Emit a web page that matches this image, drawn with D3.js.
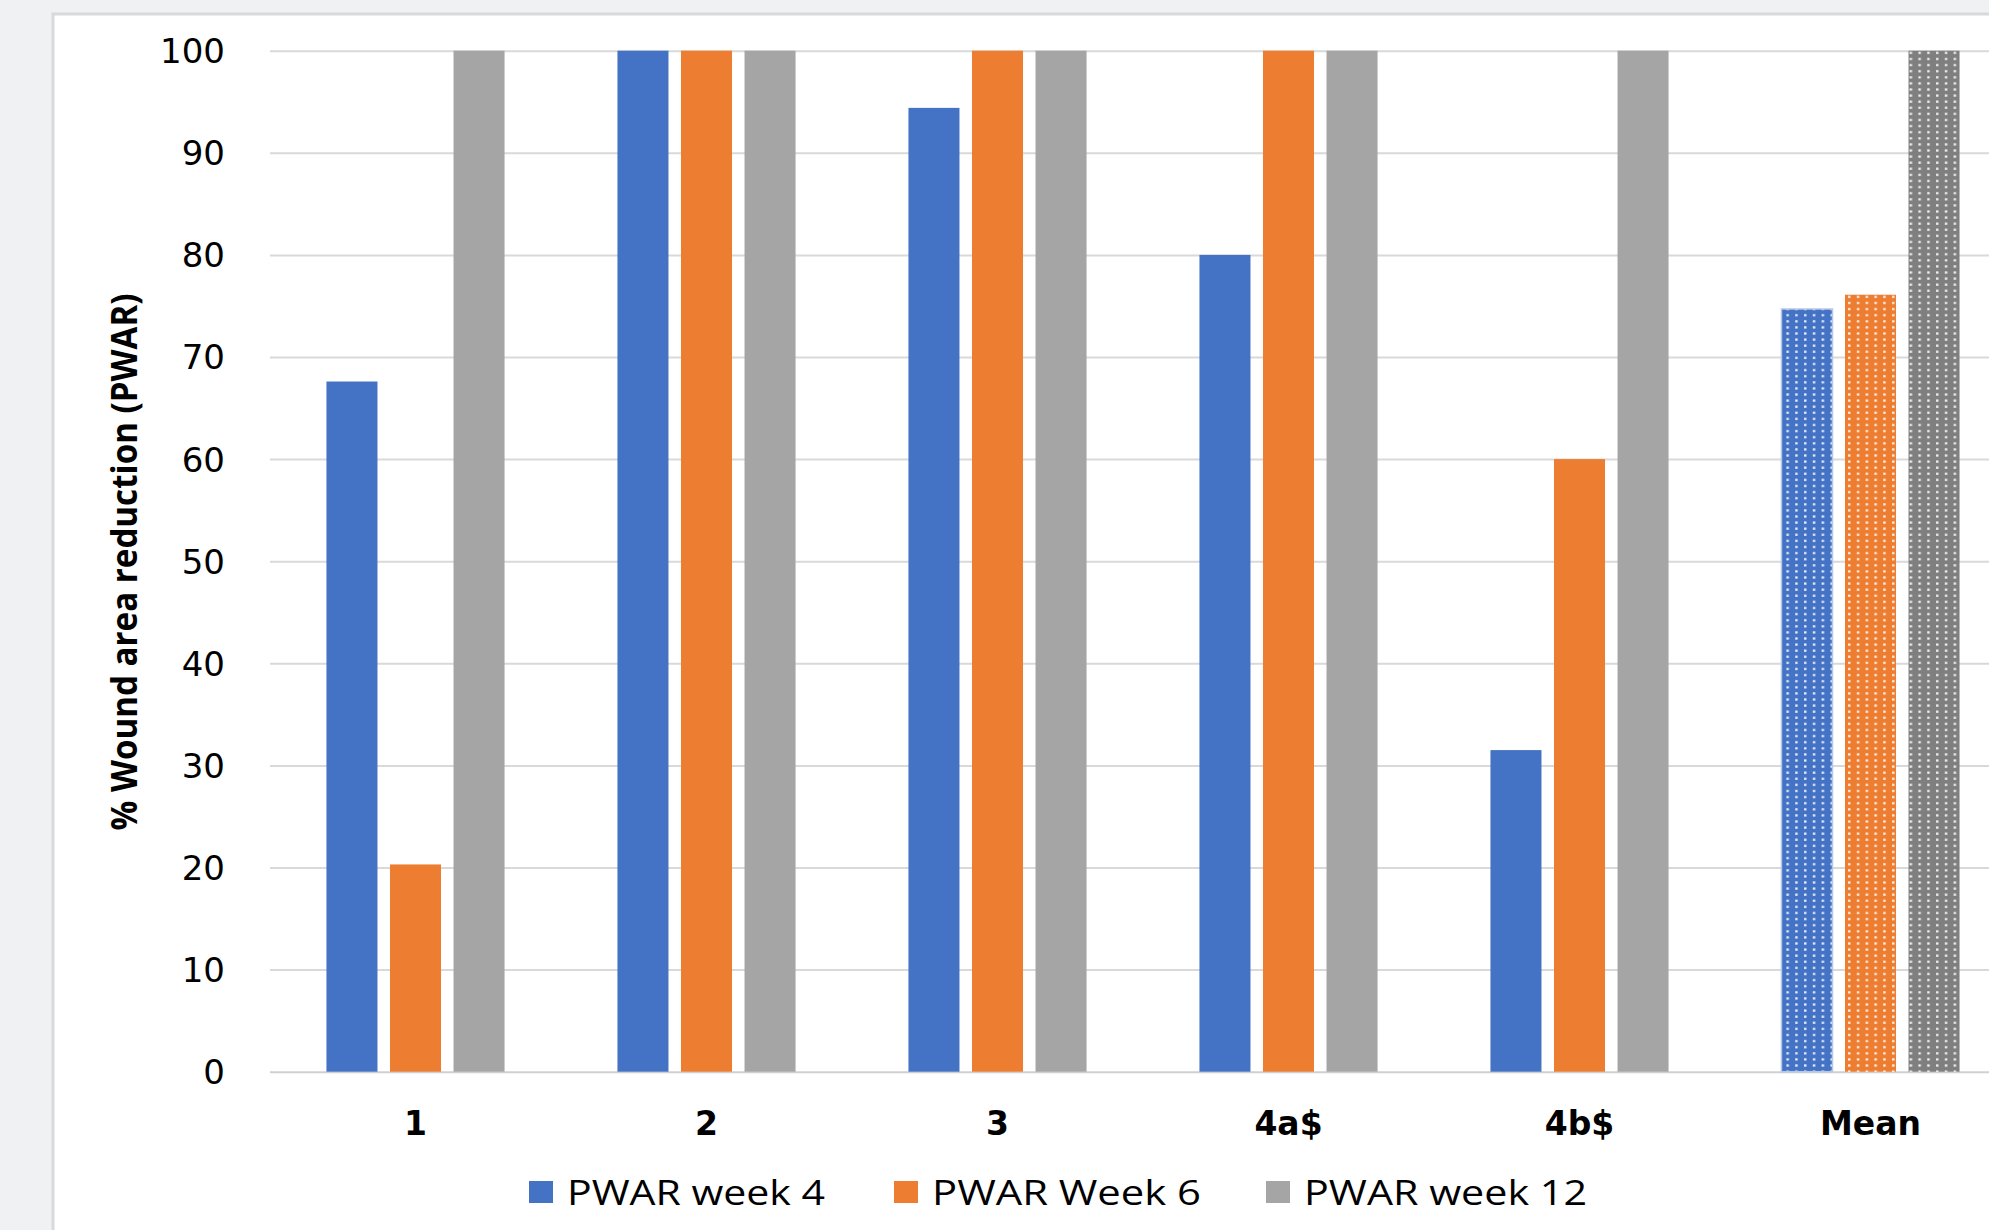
<!DOCTYPE html>
<html>
<head>
<meta charset="utf-8">
<script src="https://cdn.jsdelivr.net/npm/d3@7/dist/d3.min.js"></script>
<style>
  html, body { margin: 0; padding: 0; background: #eff1f3; overflow: hidden; }
  svg { display: block; }
</style>
</head>
<body>
<svg id="chart" width="1989" height="1230"></svg>
<script>
// ---- data ----
const categories = ["1", "2", "3", "4a$", "4b$", "Mean"];
const seriesNames = ["PWAR week 4", "PWAR Week 6", "PWAR week 12"];
const week4 = [67.6, 100, 94.4, 80, 31.5, 74.7];
const week6 = [20.3, 100, 100, 100, 60, 76.1];
const week12 = [100, 100, 100, 100, 100, 100];
const yTicks = [0, 10, 20, 30, 40, 50, 60, 70, 80, 90, 100];
const yTitle = "% Wound area reduction (PWAR)";

// ---- styles ----
const colors = ["#4472C4", "#ED7D31", "#A5A5A5"];
const meanColors = ["#4472C4", "#ED7D31", "#7F7F7F"];

const svg = d3.select("#chart");
const defs = svg.append("defs");
meanColors.forEach((c, i) => {
  const p = defs.append("pattern")
    .attr("id", "dots" + i)
    .attr("patternUnits", "userSpaceOnUse")
    .attr("width", 8.8).attr("height", 6.1)
    .attr("x", 2).attr("y", 1);
  p.append("rect").attr("width", 8.8).attr("height", 6.1).attr("fill", c);
  p.append("rect").attr("x", 3).attr("y", 2).attr("width", 2.4).attr("height", 2.2)
    .attr("fill", "#ffffff").attr("opacity", 0.9);
});

// panel
svg.append("rect").attr("x", 53).attr("y", 14).attr("width", 2100).attr("height", 1400)
  .attr("fill", "#ffffff").attr("stroke", "#d8d9db").attr("stroke-width", 3);

const x0 = d3.scaleBand().domain(categories).range([270, 2016])
  .paddingInner(0.388).paddingOuter(0.194);
const x1 = d3.scaleBand().domain(seriesNames).range([0, x0.bandwidth()])
  .paddingInner(0.197).paddingOuter(0);
const y = d3.scaleLinear().domain([0, 100]).range([1071.7, 50.7]);

// y axis with gridlines
const yAxis = svg.append("g").attr("transform", "translate(270,0)")
  .call(d3.axisLeft(y).tickValues(yTicks).tickSize(-1800).tickPadding(45));
yAxis.select(".domain").remove();
yAxis.selectAll(".tick line").attr("stroke", "#d9d9d9").attr("stroke-width", 2);
yAxis.selectAll(".tick text")
  .attr("font-family", "'DejaVu Sans', sans-serif")
  .attr("font-size", 34).attr("fill", "#000")
  .attr("dy", "0.35em");
yAxis.selectAll(".tick").filter(d => d === 0).select("line").attr("stroke", "#d0d0d0");

// bars
const data = categories.map((c, i) => ({ cat: c, vals: [week4[i], week6[i], week12[i]] }));
const groups = svg.append("g").selectAll("g").data(data).join("g")
  .attr("transform", d => `translate(${x0(d.cat)},0)`);
groups.selectAll("rect")
  .data(d => d.vals.map((v, j) => ({ v, j, mean: d.cat === "Mean" })))
  .join("rect")
  .attr("x", d => x1(seriesNames[d.j]))
  .attr("width", x1.bandwidth())
  .attr("y", d => y(d.v))
  .attr("height", d => y(0) - y(d.v))
  .attr("fill", d => d.mean ? `url(#dots${d.j})` : colors[d.j])
  .attr("stroke", d => d.mean && d.j === 0 ? "#b4c7e7" : "none")
  .attr("stroke-width", 1.5);

// x axis labels
const xAxis = svg.append("g").attr("transform", "translate(0,1071.7)")
  .call(d3.axisBottom(x0).tickSize(0).tickPadding(40));
xAxis.select(".domain").remove();
xAxis.selectAll(".tick text")
  .attr("font-family", "'DejaVu Sans', sans-serif")
  .attr("font-weight", "bold")
  .attr("font-size", 33).attr("fill", "#000")
  .attr("dy", "0.71em");

// y title
svg.append("text")
  .attr("transform", "translate(137,562) rotate(-90)")
  .attr("text-anchor", "middle")
  .attr("font-family", "'Open Sans', sans-serif")
  .attr("font-weight", "bold")
  .attr("font-size", 36)
  .attr("textLength", 537).attr("lengthAdjust", "spacingAndGlyphs")
  .attr("fill", "#000")
  .text(yTitle);

// legend
const legendX = [529, 894, 1266];
const legendW = [258, 269, 283];
const legend = svg.append("g").selectAll("g").data(seriesNames).join("g")
  .attr("transform", (d, i) => `translate(${legendX[i]},0)`);
legend.append("rect").attr("x", 0).attr("y", 1181).attr("width", 24).attr("height", 22)
  .attr("fill", (d, i) => colors[i]);
legend.append("text").attr("x", 38).attr("y", 1205)
  .attr("font-family", "'Open Sans', sans-serif")
  .attr("font-size", 34).attr("fill", "#000")
  .attr("textLength", (d, i) => legendW[i]).attr("lengthAdjust", "spacingAndGlyphs")
  .text(d => d);
</script>
</body>
</html>
